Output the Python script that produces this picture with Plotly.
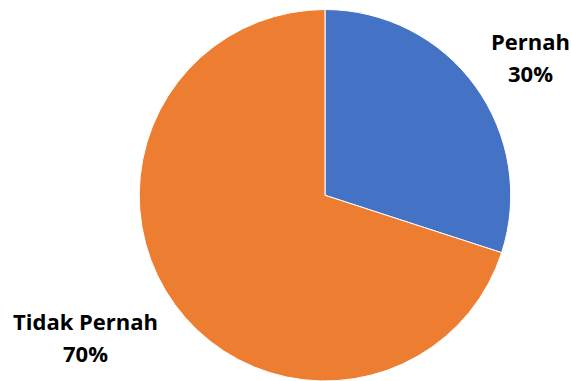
import plotly.graph_objects as go

labels = ["Pernah", "Tidak Pernah"]
values = [30, 70]
colors = ["#4472C4", "#ED7D31"]

total = sum(values)
pct = [f"{round(v / total * 100)}%" for v in values]

fig = go.Figure(go.Pie(
    labels=labels,
    values=values,
    marker=dict(colors=colors, line=dict(color="white", width=1)),
    sort=False,
    direction="clockwise",
    rotation=0,
    textinfo="none",
    hoverinfo="label+percent",
    domain=dict(x=[0.2434, 0.8949], y=[0.0, 0.975]),
    showlegend=False,
))

# label positions (pixel centers) for each slice
label_pos = [(530, 41, 73), (85, 321, 353)]
W, H = 571, 381
font = dict(family="Open Sans", size=22, color="black")
ann = []
for (x, y1, y2), name, p in zip(label_pos, labels, pct):
    ann.append(dict(x=x / W, y=1 - y1 / H, xref="paper", yref="paper", text=f"<b>{name}</b>",
                    showarrow=False, xanchor="center", yanchor="middle", font=font))
    ann.append(dict(x=x / W, y=1 - y2 / H, xref="paper", yref="paper", text=f"<b>{p}</b>",
                    showarrow=False, xanchor="center", yanchor="middle", font=font))

fig.update_layout(
    width=W, height=H,
    margin=dict(l=0, r=0, t=0, b=0),
    paper_bgcolor="white",
    plot_bgcolor="white",
    annotations=ann,
)

fig.write_html("out.html", config={"displayModeBar": False},
               post_script="document.body.style.margin='0';")
